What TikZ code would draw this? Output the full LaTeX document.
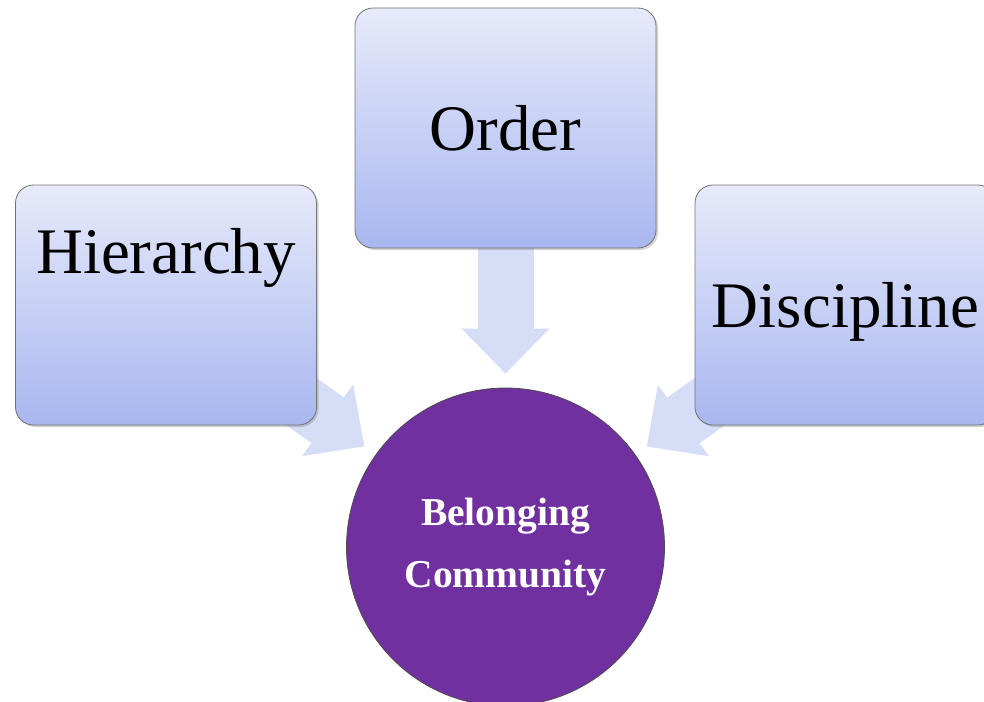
\documentclass[tikz,border=0pt]{standalone}
\usepackage{fontspec}
\setmainfont{Liberation Serif}
\usepackage{tikz}
\usetikzlibrary{shapes, arrows.meta, positioning, shadows, backgrounds}

\definecolor{boxtop}{RGB}{231,234,250}
\definecolor{boxbot}{RGB}{168,183,240}
\definecolor{arrowc}{RGB}{214,221,246}
\definecolor{purp}{RGB}{112,48,160}

\begin{document}
\begin{tikzpicture}[x=1pt, y=-1pt,
        box/.style={rectangle, rounded corners=18pt, draw=black!55, line width=0.8pt,
            top color=boxtop, bottom color=boxbot, minimum width=301pt, minimum height=240pt,
            inner sep=0pt, text height=44pt, text depth=0pt, font=\fontsize{65}{65}\selectfont,
            drop shadow={shadow xshift=2pt, shadow yshift=-2pt, opacity=0.35}},
        fat/.style={line width=56pt, draw=arrowc,
            -{Triangle[width=88pt, length=45pt, line width=0pt]}, shorten >=14pt}]
        \clip (0,0) rectangle (984,701);

        % Center circle
        \node[circle, minimum size=318pt, fill=purp, draw=black!70, line width=0.8pt,
            text=white, align=center, font=\bfseries\fontsize{39.5}{62}\selectfont]
            (comm) at (505.5,547) {Belonging\\Community};

        % Boxes
        \node[box] (order) at (505.5,128) {Order};
        \node[box, text depth=108pt] (hier) at (166,305) {Hierarchy};
        \node[box] (disc) at (845.5,305) {Discipline};

        % Arrows
        \begin{scope}[on background layer]
            \draw[fat] (order.center) -- (comm);
            \draw[fat] (hier.center) -- (comm);
            \draw[fat] (disc.center) -- (comm);
        \end{scope}
    \end{tikzpicture}
\end{document}
